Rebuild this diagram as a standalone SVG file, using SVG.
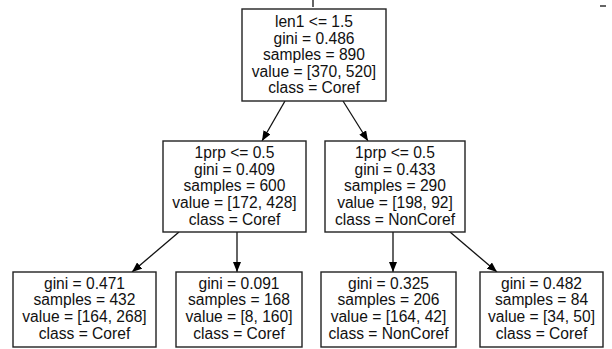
<svg xmlns="http://www.w3.org/2000/svg" width="612" height="349" viewBox="0 0 612 349">
<style>
.box{fill:#fff;stroke:#222;stroke-width:1.4}
.t{font-family:"Liberation Sans",Arial,sans-serif;font-size:15.6px;fill:#111;text-anchor:middle}
.e{stroke:#111;stroke-width:1.3;fill:none}
</style>
<defs>
<marker id="ah" viewBox="0 0 10 8" refX="10" refY="4" markerWidth="10" markerHeight="8" markerUnits="userSpaceOnUse" orient="auto">
<path d="M0,0 L10,4 L0,8 z" fill="#000"/>
</marker>
</defs>
<rect width="612" height="349" fill="#fff"/>
<g id="artifacts">
<line x1="313" y1="0" x2="313" y2="7" class="e"/>
<line x1="600" y1="6" x2="606" y2="6" class="e"/>
</g>
<g id="connectors">
<line class="e" x1="285" y1="101" x2="262" y2="141" marker-end="url(#ah)"/>
<line class="e" x1="343" y1="101" x2="368" y2="141" marker-end="url(#ah)"/>
<line class="e" x1="179" y1="232" x2="132" y2="272" marker-end="url(#ah)"/>
<line class="e" x1="237" y1="232" x2="237" y2="272" marker-end="url(#ah)"/>
<line class="e" x1="393" y1="232" x2="393" y2="272" marker-end="url(#ah)"/>
<line class="e" x1="450" y1="232" x2="497" y2="272" marker-end="url(#ah)"/>
</g>
<g id="n0">
<rect class="box" x="242" y="9" width="144" height="92"/>
<text class="t" x="314" y="27">len1 &lt;= 1.5</text>
<text class="t" x="314" y="43.5">gini = 0.486</text>
<text class="t" x="314" y="60">samples = 890</text>
<text class="t" x="314" y="76.5">value = [370, 520]</text>
<text class="t" x="314" y="93">class = Coref</text>
</g>
<g id="n1">
<rect class="box" x="163" y="141" width="143" height="91"/>
<text class="t" x="234.5" y="158">1prp &lt;= 0.5</text>
<text class="t" x="234.5" y="174.7">gini = 0.409</text>
<text class="t" x="234.5" y="191.3">samples = 600</text>
<text class="t" x="234.5" y="208">value = [172, 428]</text>
<text class="t" x="234.5" y="224.7">class = Coref</text>
</g>
<g id="n4">
<rect class="box" x="325" y="141" width="140" height="91"/>
<text class="t" x="395" y="158">1prp &lt;= 0.5</text>
<text class="t" x="395" y="174.7">gini = 0.433</text>
<text class="t" x="395" y="191.3">samples = 290</text>
<text class="t" x="395" y="208">value = [198, 92]</text>
<text class="t" x="395" y="224.7">class = NonCoref</text>
</g>
<g id="n2">
<rect class="box" x="13" y="272" width="143" height="75"/>
<text class="t" x="84.5" y="288.7">gini = 0.471</text>
<text class="t" x="84.5" y="305.3">samples = 432</text>
<text class="t" x="84.5" y="322">value = [164, 268]</text>
<text class="t" x="84.5" y="338.7">class = Coref</text>
</g>
<g id="n3">
<rect class="box" x="176" y="272" width="126" height="75"/>
<text class="t" x="239" y="288.7">gini = 0.091</text>
<text class="t" x="239" y="305.3">samples = 168</text>
<text class="t" x="239" y="322">value = [8, 160]</text>
<text class="t" x="239" y="338.7">class = Coref</text>
</g>
<g id="n5">
<rect class="box" x="321" y="272" width="135" height="75"/>
<text class="t" x="388.5" y="288.7">gini = 0.325</text>
<text class="t" x="388.5" y="305.3">samples = 206</text>
<text class="t" x="388.5" y="322">value = [164, 42]</text>
<text class="t" x="388.5" y="338.7">class = NonCoref</text>
</g>
<g id="n6">
<rect class="box" x="480" y="272" width="123" height="75"/>
<text class="t" x="541.5" y="288.7">gini = 0.482</text>
<text class="t" x="541.5" y="305.3">samples = 84</text>
<text class="t" x="541.5" y="322">value = [34, 50]</text>
<text class="t" x="541.5" y="338.7">class = Coref</text>
</g>
</svg>
